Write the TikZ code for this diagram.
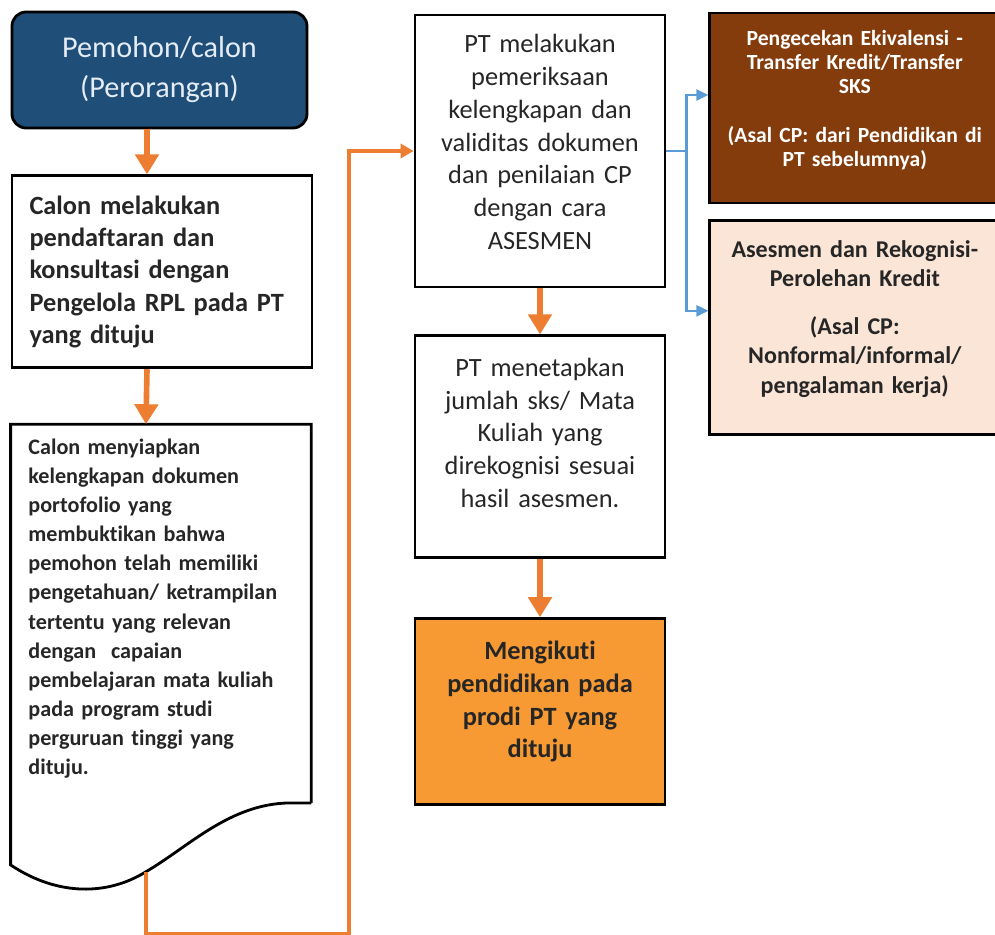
\documentclass[tikz,border=0pt]{standalone}
\usepackage{fontspec}
\setmainfont{Carlito}[Ligatures=NoCommon]
\usetikzlibrary{calc,arrows.meta,positioning}
\definecolor{navy}{HTML}{1F4E79}
\definecolor{navytext}{HTML}{E4ECF5}
\definecolor{flowor}{HTML}{ED7D31}
\definecolor{boxor}{HTML}{F79A33}
\definecolor{rplbrown}{HTML}{843C0C}
\definecolor{peach}{HTML}{FBE5D6}
\definecolor{linkblue}{HTML}{5B9BD5}
\definecolor{ink}{HTML}{262626}
\newcommand{\padbot}[1]{\par\vspace{#1}\hrule height 0pt}

\begin{document}
\begin{tikzpicture}[
        startbox/.style={rectangle, rounded corners=8pt, draw=black, line width=1.6pt,
                     fill=navy, text=navytext, align=center, minimum width=5.9cm,
                     minimum height=2.32cm, font=\fontsize{17.2}{22.7}\selectfont},
        leftbox/.style={rectangle, draw=black, line width=1.6pt, text=ink,
                     text width=5.3cm, inner xsep=0.35cm, align=left,
                     font=\bfseries\fontsize{15}{18.4}\selectfont},
        docbox/.style={rectangle, text=ink, text width=5.3cm, inner xsep=0.35cm,
                     align=left, minimum height=7.56cm,
                     font=\bfseries\fontsize{12.6}{16.6}\selectfont},
        stepbox/.style={rectangle, draw=black, line width=1.6pt, text=ink,
                     text width=4.6cm, inner xsep=0.2cm, align=center,
                     font=\fontsize{15}{18.7}\selectfont},
        endbox/.style={stepbox, fill=boxor, font=\bfseries\fontsize{15}{18.7}\selectfont},
        transbox/.style={rectangle, draw=black, line width=1.6pt, fill=rplbrown,
                     text=white, text width=5.4cm, inner xsep=0.2cm, align=center,
                     font=\bfseries\fontsize{12.3}{13.8}\selectfont},
        rplbox/.style={transbox, fill=peach, text=ink,
                     font=\bfseries\fontsize{13.7}{16.7}\selectfont},
        flow/.style={-{Triangle[length=0.4cm,width=0.46cm]}, line width=3.2pt, flowor},
        link/.style={-{Triangle[length=0.26cm,width=0.28cm]}, line width=2.3pt, flowor},
        branch/.style={-{Triangle[length=0.24cm,width=0.22cm]}, line width=1.3pt, linkblue}]
    \useasboundingbox (0,0) rectangle (19.9,-18.68);
    \node[startbox] (pemohon) at (3.19,-1.40) {Pemohon/calon\\(Perorangan)};
    \node[leftbox, minimum height=3.84cm, below=0.9cm of pemohon.south west,
          anchor=north west] (daftar)
        {Calon melakukan\\pendaftaran dan\\konsultasi dengan\\Pengelola RPL pada PT\\yang dituju};
    \node[docbox, below=1.1cm of daftar.south west, anchor=north west] (porto)
        {Calon menyiapkan\\kelengkapan dokumen\\portofolio yang\\membuktikan bahwa\\
         pemohon telah memiliki\\pengetahuan/ ketrampilan\\tertentu yang relevan\\
         dengan\ \ capaian\\pembelajaran mata kuliah\\pada program studi\\
         perguruan tinggi yang\\dituju.\padbot{0.2cm}};
    \coordinate (docfoot) at ($(porto.south west)+(2.7,-1.38)$);
    \draw[line width=1.6pt] (porto.south east) -- (porto.north east) -- (porto.north west)
        -- ([yshift=-1.24cm]porto.south west)
        .. controls +(0.96,-0.64) and +(-0.74,-0.46) .. (docfoot)
        .. controls +(0.86,0.5) and +(-1.2,-0.02) .. ([xshift=-0.44cm]porto.south east)
        -- (porto.south east);

    \node[stepbox, minimum height=5.44cm] (periksa) at (10.8,-3.02)
        {PT melakukan\\pemeriksaan\\kelengkapan dan\\validitas dokumen\\dan penilaian CP\\
         dengan cara\\ASESMEN\padbot{0.36cm}};
    \node[stepbox, minimum height=4.44cm, below=0.92cm of periksa] (tetapkan)
        {PT menetapkan\\jumlah sks/ Mata\\Kuliah yang\\direkognisi sesuai\\hasil asesmen.\padbot{0.56cm}};
    \node[endbox, minimum height=3.72cm, below=1.16cm of tetapkan] (ikuti)
        {Mengikuti\\pendidikan pada\\prodi PT yang\\dituju\padbot{0.4cm}};

    \node[transbox, minimum height=3.8cm, right=0.84cm of periksa.north east,
          anchor=north west, yshift=0.04cm] (transfer)
        {Pengecekan Ekivalensi -\\Transfer Kredit/Transfer\\SKS\\[13.6pt]
         (Asal CP: dari Pendidikan di\\PT sebelumnya)\padbot{0.32cm}};
    \node[rplbox, minimum height=4.28cm, below=0.3cm of transfer] (rekognisi)
        {Asesmen dan Rekognisi-\\Perolehan Kredit\\[10.5pt]
         (Asal CP:\\Nonformal/informal/\\pengalaman kerja)\padbot{0.36cm}};

    \draw[flow] ([xshift=-0.3cm]daftar.north |- pemohon.south) -- ([xshift=-0.3cm]daftar.north);
    \draw[flow] ([xshift=-0.3cm]daftar.south) -- ([xshift=-0.3cm]porto.north);
    \draw[link] (docfoot) -- ++(0,-1.24) -| ([xshift=-1.3cm]periksa.west) -- (periksa.west);
    \draw[flow] (periksa) -- (tetapkan);
    \draw[flow] (tetapkan) -- (ikuti);
    \draw[branch] (periksa.east) -- ++(0.4,0) |- ([yshift=0.26cm]transfer.west);
    \draw[branch] (periksa.east) -- ++(0.4,0) |- ([yshift=0.34cm]rekognisi.west);
\end{tikzpicture}
\end{document}
